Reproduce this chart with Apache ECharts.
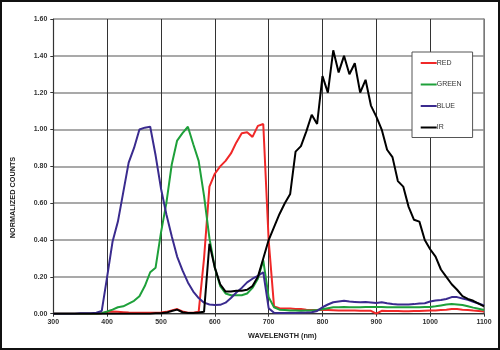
<!DOCTYPE html>
<html>
<head>
<meta charset="utf-8">
<script src="https://cdn.jsdelivr.net/npm/echarts@6/dist/echarts.min.js"></script>
<style>
  html, body { margin: 0; padding: 0; background: #fff; }
  #wrap { position: relative; width: 500px; height: 350px; }
  #chart { position: absolute; left: 0; top: 0; width: 500px; height: 350px; }
  #frame { position: absolute; left: 0; top: 0; width: 500px; height: 350px;
           box-sizing: border-box; border: 2px solid #111; pointer-events: none; }
</style>
</head>
<body>
<div id="wrap">
  <div id="chart"></div>
  <div id="frame"></div>
</div>
<script>
// Wavelength samples (nm), 10 nm steps
const wavelength = [
  300, 310, 320, 330, 340, 350, 360, 370, 380, 390,
  400, 410, 420, 430, 440, 450, 460, 470, 480, 490,
  500, 510, 520, 530, 540, 550, 560, 570, 580, 590,
  600, 610, 620, 630, 640, 650, 660, 670, 680, 690,
  700, 710, 720, 730, 740, 750, 760, 770, 780, 790,
  800, 810, 820, 830, 840, 850, 860, 870, 880, 890,
  900, 910, 920, 930, 940, 950, 960, 970, 980, 990,
  1000, 1010, 1020, 1030, 1040, 1050, 1060, 1070, 1080, 1090,
  1100
];

const red = [
  0, 0, 0, 0, 0, 0, 0, 0, 0, 0.003,
  0.01, 0.012, 0.01, 0.008, 0.006, 0.005, 0.005, 0.005, 0.005, 0.005,
  0.006, 0.01, 0.018, 0.025, 0.012, 0.005, 0.005, 0.01, 0.3, 0.69,
  0.76, 0.8, 0.83, 0.87, 0.93, 0.98, 0.985, 0.96, 1.02, 1.03,
  0.40, 0.04, 0.03, 0.028, 0.028, 0.026, 0.025, 0.022, 0.02, 0.02,
  0.02, 0.02, 0.019, 0.018, 0.018, 0.017, 0.017, 0.016, 0.016, 0.016,
  0.0, 0.016, 0.015, 0.014, 0.014, 0.013, 0.013, 0.014, 0.015, 0.016,
  0.017, 0.018, 0.02, 0.022, 0.025, 0.025, 0.022, 0.02, 0.017, 0.015,
  0.012
];

const green = [
  0, 0, 0, 0, 0, 0, 0, 0, 0, 0.003,
  0.012, 0.022, 0.035, 0.04, 0.055, 0.07, 0.095, 0.15, 0.225, 0.25,
  0.44, 0.6, 0.81, 0.94, 0.98, 1.015, 0.92, 0.83, 0.64, 0.41,
  0.25, 0.15, 0.11, 0.1, 0.1, 0.1, 0.11, 0.14, 0.19, 0.29,
  0.09, 0.035, 0.022, 0.02, 0.018, 0.017, 0.016, 0.017, 0.018, 0.02,
  0.024, 0.03, 0.035, 0.035, 0.036, 0.035, 0.035, 0.035, 0.036, 0.036,
  0.036, 0.036, 0.035, 0.035, 0.035, 0.035, 0.035, 0.035, 0.035, 0.036,
  0.037, 0.04, 0.045, 0.05, 0.052, 0.05, 0.047, 0.04, 0.033, 0.027,
  0.02
];

const blue = [
  0, 0, 0, 0, 0, 0.002, 0.002, 0.003, 0.005, 0.015,
  0.2, 0.39, 0.5, 0.66, 0.82, 0.9, 1.0, 1.01, 1.015, 0.86,
  0.68, 0.54, 0.42, 0.31, 0.235, 0.17, 0.12, 0.085, 0.06, 0.05,
  0.047, 0.048, 0.06, 0.085, 0.115, 0.14, 0.17, 0.19, 0.205, 0.225,
  0.03, 0.005, 0.004, 0.004, 0.004, 0.004, 0.005, 0.006, 0.008, 0.015,
  0.035, 0.05, 0.062, 0.066, 0.07, 0.066, 0.064, 0.062, 0.063, 0.061,
  0.058, 0.062, 0.057, 0.053, 0.05, 0.05, 0.05, 0.052, 0.055, 0.057,
  0.066, 0.072, 0.074, 0.08, 0.09, 0.09, 0.083, 0.075, 0.065, 0.055,
  0.045
];

const ir = [
  0, 0, 0, 0, 0, 0, 0, 0, 0, 0,
  0, 0, 0, 0, 0, 0, 0, 0, 0, 0.002,
  0.003, 0.006, 0.015, 0.022, 0.008, 0.004, 0.004, 0.006, 0.01, 0.38,
  0.25, 0.16, 0.12, 0.12, 0.125, 0.125, 0.13, 0.15, 0.2, 0.3,
  0.40, 0.47, 0.54, 0.60, 0.65, 0.88, 0.91, 0.99, 1.08, 1.03,
  1.29, 1.20, 1.43, 1.31, 1.40, 1.30, 1.36, 1.20, 1.27, 1.13,
  1.07, 1.0, 0.89, 0.85, 0.72, 0.69, 0.58, 0.51, 0.50, 0.40,
  0.35, 0.31, 0.24, 0.20, 0.16, 0.13, 0.095, 0.08, 0.07, 0.055,
  0.04
];

const seriesNames = ['RED', 'GREEN', 'BLUE', 'IR'];
const seriesColors = ['#f02828', '#1ea03a', '#3a2b8e', '#000000'];
const seriesValues = [red, green, blue, ir];

const FONT = "'Liberation Sans', Arial, sans-serif";

const chart = echarts.init(document.getElementById('chart'), null, { renderer: 'canvas' });

const pairs = vals => wavelength.map((w, i) => [w, vals[i]]);

chart.setOption({
  animation: false,
  backgroundColor: '#ffffff',
  grid: { left: 53.3, right: 16, top: 19, bottom: 36.3, containLabel: false },
  xAxis: {
    type: 'value',
    min: 300, max: 1100, interval: 100,
    axisLine: { show: true, onZero: false, lineStyle: { color: '#333', width: 1.2 } },
    axisTick: { show: true, length: 3, lineStyle: { color: '#333' } },
    axisLabel: {
      margin: 5, fontSize: 7, fontWeight: 'bold', color: '#333', fontFamily: FONT,
      formatter: v => String(v)
    },
    splitLine: { show: true, lineStyle: { color: '#333', width: 1 } }
  },
  yAxis: [{
    type: 'value',
    min: 0, max: 1.6, interval: 0.2,
    axisLine: { show: true, lineStyle: { color: '#333', width: 1.2 } },
    axisTick: { show: true, length: 3, lineStyle: { color: '#333' } },
    axisLabel: {
      margin: 6, fontSize: 7, fontWeight: 'bold', color: '#333', fontFamily: FONT,
      formatter: v => v.toFixed(2)
    },
    splitLine: { show: true, lineStyle: { color: '#8c8c8c', width: 1.6 } }
  }, {
    type: 'value',
    position: 'right',
    min: 0, max: 1.6, interval: 0.2,
    axisLine: { show: true, lineStyle: { color: '#8c8c8c', width: 1.6 } },
    axisTick: { show: false },
    axisLabel: { show: false },
    splitLine: { show: false }
  }],
  legend: {
    orient: 'vertical',
    left: 412, top: 52,
    data: seriesNames,
    icon: 'rect',
    itemWidth: 16, itemHeight: 2,
    itemGap: 11.5,
    padding: [6, 11, 5, 8.7],
    backgroundColor: '#ffffff',
    borderColor: '#555',
    borderWidth: 1,
    borderRadius: 0,
    textStyle: { fontSize: 7, lineHeight: 10, color: '#333', fontFamily: FONT, padding: [0, 0, 0, -5] }
  },
  graphic: [
    {
      type: 'text',
      left: 283 - 35, top: 332,
      style: { text: 'WAVELENGTH (nm)', font: "bold 7.3px 'Liberation Sans', Arial, sans-serif", fill: '#222' }
    },
    {
      type: 'text',
      x: 13.3, y: 197.5,
      rotation: Math.PI / 2,
      style: {
        text: 'NORMALIZED COUNTS', font: "bold 7.3px 'Liberation Sans', Arial, sans-serif",
        fill: '#222', align: 'center', verticalAlign: 'middle'
      }
    }
  ],
  series: seriesNames.map((name, i) => ({
    name,
    type: 'line',
    data: pairs(seriesValues[i]),
    symbol: 'none',
    showSymbol: false,
    smooth: false,
    z: 2 + i,
    lineStyle: { color: seriesColors[i], width: 2 },
    itemStyle: { color: seriesColors[i] }
  }))
});
</script>
</body>
</html>
